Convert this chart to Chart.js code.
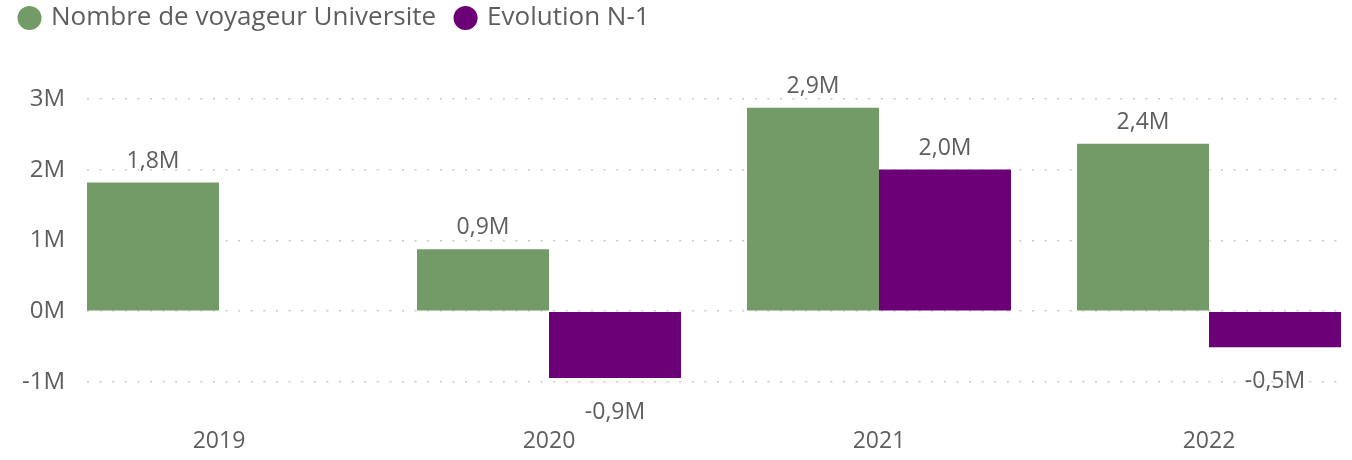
<!DOCTYPE html>
<html>
<head>
<meta charset="utf-8">
<script src="https://cdn.jsdelivr.net/npm/chart.js@4.4.1/dist/chart.umd.min.js"></script>
<style>
  html, body { margin: 0; padding: 0; background: #fff; }
  #wrap { width: 1352px; height: 460px; }
</style>
</head>
<body>
<div id="wrap"><canvas id="voyChart"></canvas></div>
<script>
// values
const years = ['2019', '2020', '2021', '2022'];
const voyageurs = [1820000, 876000, 2880000, 2370000];
const evolution = [null, -944000, 2004000, -510000];
const yTicks = [-1000000, 0, 1000000, 2000000, 3000000];

const textColor = '#605E5C';
const fontName = "'Open Sans', 'Noto Sans', sans-serif";

function fmtM(v) {
    return (v / 1000000).toFixed(1).replace('.', ',') + 'M';
}

// labels above positive bars, below negative ones
const barLabels = {
    id: 'barLabels',
    afterDatasetsDraw(chart) {
        const ctx = chart.ctx;
        ctx.save();
        ctx.font = '23px ' + fontName;
        ctx.fillStyle = textColor;
        ctx.textAlign = 'center';
        ctx.textBaseline = 'alphabetic';
        chart.data.datasets.forEach((ds, di) => {
            chart.getDatasetMeta(di).data.forEach((bar, i) => {
                const v = ds.data[i].y;
                if (v === null) return;
                if (v >= 0) {
                    ctx.fillText(fmtM(v), bar.x, bar.y - 15);
                } else {
                    ctx.fillText(fmtM(v), bar.x, bar.y + 41);
                }
            });
        });
        ctx.restore();
    }
};

// fixed legend height so the plot starts where it should
const legendHeight = {
    id: 'legendHeight',
    beforeInit(chart) {
        const origFit = chart.legend.fit;
        chart.legend.fit = function () {
            origFit.call(this);
            this.height = 94;
        };
    }
};

const vtx = document.getElementById('voyChart').getContext('2d');
const voyChart = new Chart(vtx, {
    type: 'bar',
    data: {
        datasets: [
            {
                label: 'Nombre de voyageur Universite',
                data: years.map((y, i) => ({ x: i, y: voyageurs[i] })),
                backgroundColor: '#739B67'
            },
            {
                label: 'Evolution N-1',
                data: years.map((y, i) => ({ x: i, y: evolution[i] })),
                backgroundColor: '#6B0077'
            }
        ]
    },
    options: {
        responsive: true,
        maintainAspectRatio: false,
        animation: false,
        categoryPercentage: 0.8,
        barPercentage: 1,
        layout: {
            padding: { left: 0, right: 11, top: -16, bottom: 0 }
        },
        plugins: {
            tooltip: { enabled: false },
            legend: {
                position: 'top',
                align: 'start',
                labels: {
                    usePointStyle: true,
                    pointStyle: 'circle',
                    boxWidth: 17,
                    boxHeight: 17,
                    padding: 21,
                    color: textColor,
                    font: { family: fontName, size: 26 }
                }
            }
        },
        scales: {
            x: {
                type: 'linear',
                offset: false,
                min: -0.4,
                max: 3.4,
                grid: { display: false, drawTicks: false },
                border: { display: false },
                afterBuildTicks: axis => {
                    axis.ticks = years.map((y, i) => ({ value: i }));
                },
                afterFit: axis => {
                    axis.height = 64;
                },
                ticks: {
                    padding: 32,
                    color: textColor,
                    font: { family: fontName, size: 23 },
                    callback: v => years[v]
                }
            },
            y: {
                min: -1200000,
                max: 3300000,
                afterBuildTicks: axis => {
                    axis.ticks = yTicks.map(v => ({ value: v }));
                },
                afterFit: axis => {
                    axis.width = 87;
                },
                grid: {
                    color: '#C8C8C8',
                    lineWidth: 1.5,
                    drawTicks: false
                },
                border: { display: false, dash: [2, 10.6] },
                ticks: {
                    padding: 22,
                    color: textColor,
                    font: { family: fontName, size: 24 },
                    callback: v => (v / 1000000) + 'M'
                }
            }
        }
    },
    plugins: [barLabels, legendHeight]
});
</script>
</body>
</html>
